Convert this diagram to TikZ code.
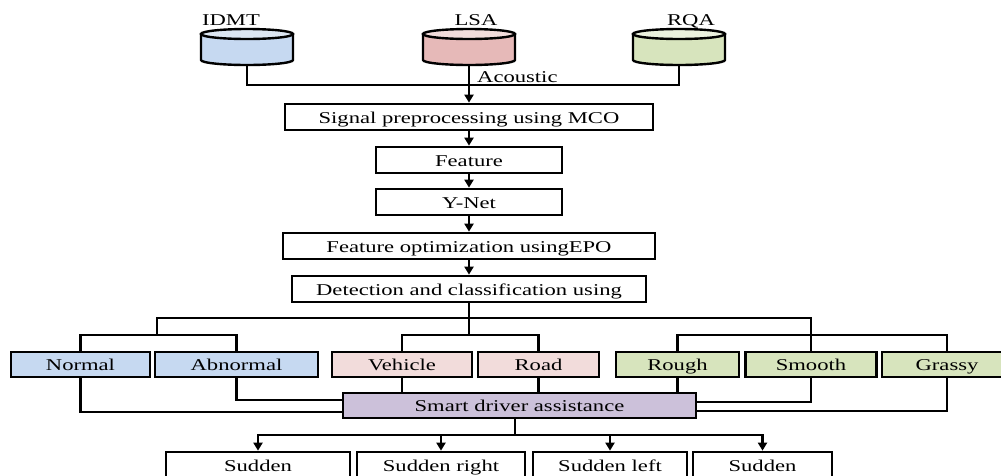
\documentclass[tikz,border=0pt]{standalone}
\usepackage{fontspec}
\setmainfont{Liberation Serif}[FakeStretch=1.37]
\usetikzlibrary{arrows.meta,calc}
\definecolor{cblue}{HTML}{C6D9F1}
\definecolor{cbluetop}{HTML}{DCE6F2}
\definecolor{cpink}{HTML}{F2DCDB}
\definecolor{cpinkbody}{HTML}{E6B9B8}
\definecolor{cgreen}{HTML}{D7E4BD}
\definecolor{cgreentop}{HTML}{EBF1DE}
\definecolor{cpurple}{HTML}{CCC1DA}
\newcommand\dbcyl[4]{%
 \filldraw[cylline, fill=#2] (#1-46,34) -- (#1-46,60) arc[start angle=180,end angle=360,x radius=46pt,y radius=5pt] -- (#1+46,34) -- cycle;
 \filldraw[cylline, fill=#3] (#1,34) ellipse[x radius=46pt,y radius=5pt];
 \coordinate (#4) at (#1,65);}
\begin{document}
\begin{tikzpicture}[x=1pt,y=-1pt,
  font=\fontsize{16.5pt}{18pt}\selectfont,
  box/.style={draw=black, line width=2.7pt, fill=white, inner sep=0pt, text height=12pt, text depth=0pt, minimum height=26pt},
  cbox/.style={box, minimum height=25pt},
  cylline/.style={draw=black, line width=2.4pt},
  ln/.style={draw=black, line width=2.3pt},
  arr/.style={ln, -{Triangle[width=9pt,length=8pt]}},
  lbl/.style={inner sep=0pt, text height=11pt, text depth=0pt}]
\useasboundingbox (0,0) rectangle (1001,475);
\clip (0,0) rectangle (1001,475);
\fill[white] (0,0) rectangle (1001,475);

% databases
\dbcyl{247}{cblue}{cbluetop}{idmt}
\dbcyl{469}{cpinkbody}{cpink}{lsa}
\dbcyl{679}{cgreen}{cgreentop}{rqa}
\node[lbl] (tidmt) at (231,20) {IDMT};
\node[lbl] (tlsa) at (476,20) {LSA};
\node[lbl] (trqa) at (691,20) {RQA};
\node[lbl, anchor=west] (tac) at (477,77) {Acoustic};

% main chain
\node[box, minimum width=368pt] (sig) at (469,117) {Signal preprocessing using MCO};
\node[box, minimum width=186pt] (feat) at (469,160) {Feature};
\node[box, minimum width=186pt] (ynet) at (469,202) {Y-Net};
\node[box, minimum width=372pt] (fopt) at (469,246) {Feature optimization usingEPO};
\node[box, minimum width=354pt] (det) at (469,289) {Detection and classification using};

% classes
\node[cbox, fill=cblue, minimum width=139pt] (normal) at (80.5,364.5) {Normal};
\node[cbox, fill=cblue, minimum width=163pt] (abnormal) at (236.5,364.5) {Abnormal};
\node[cbox, fill=cpink, minimum width=140pt] (vehicle) at (402,364.5) {Vehicle};
\node[cbox, fill=cpink, minimum width=121pt] (road) at (538.5,364.5) {Road};
\node[cbox, fill=cgreen, minimum width=123pt] (rough) at (677.5,364.5) {Rough};
\node[cbox, fill=cgreen, minimum width=131pt] (smooth) at (811,364.5) {Smooth};
\node[cbox, fill=cgreen, minimum width=130pt] (grassy) at (947,364.5) {Grassy};

\node[cbox, fill=cpurple, minimum width=353pt] (smart) at (519.5,405.5) {Smart driver assistance};

% outputs
\node[box, minimum width=184pt] (s1) at (258,465) {Sudden};
\node[box, minimum width=168pt] (s2) at (441,465) {Sudden right};
\node[box, minimum width=154pt] (s3) at (610,465) {Sudden left};
\node[box, minimum width=139pt] (s4) at (762.5,465) {Sudden};

% top connectors
\coordinate (jA) at (469,85);
\draw[ln] (idmt) |- (jA) -| (rqa);
\draw[arr] (lsa) -- (sig.north);
\draw[arr] (sig.south) -- (feat.north);
\draw[arr] (feat.south) -- (ynet.north);
\draw[arr] (ynet.south) -- (fopt.north);
\draw[arr] (fopt.south) -- (det.north);

% tree
\coordinate (jt) at (469,318);
\coordinate (jm) at (469,335);
\coordinate (jl) at (157,335);
\coordinate (jr) at (811,335);
\draw[ln] (det.south) -- (jm);
\draw[ln] (jl) |- (jt) -| (jr);
\draw[ln] (normal.north) |- (jl) -| (abnormal.north);
\draw[ln] (vehicle.north) |- (jm) -| (road.north);
\draw[ln] (rough.north) |- (jr) -| (grassy.north);
\draw[ln] (jr) -- (smooth.north);

% to smart
\draw[ln] (normal.south) |- ($(smart.west)+(0,6.5)$);
\draw[ln] (abnormal.south) |- ($(smart.west)+(0,-5.5)$);
\draw[ln] (vehicle.south) -- (vehicle.south |- smart.north);
\draw[ln] (road.south) -- (road.south |- smart.north);
\draw[ln] (rough.south) -- (rough.south |- smart.north);
\draw[ln] (smooth.south) |- ($(smart.east)+(0,-3.5)$);
\draw[ln] (grassy.south) |- ($(smart.east)+(0,5.5)$);

% outputs
\coordinate (jb) at (515,435);
\draw[ln] (jb |- smart.south) -- (jb);
\draw[arr] (jb) -| (s1.north);
\draw[arr] (jb) -| (s4.north);
\draw[arr] (s2.north |- jb) -- (s2.north);
\draw[arr] (s3.north |- jb) -- (s3.north);
\end{tikzpicture}
\end{document}
